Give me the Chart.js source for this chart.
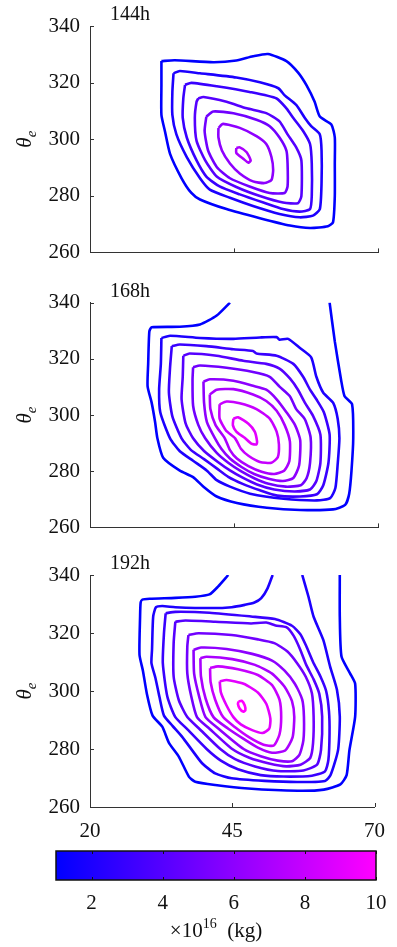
<!DOCTYPE html>
<html>
<head>
<meta charset="utf-8">
<script src="https://cdn.jsdelivr.net/npm/chart.js@4.4.1/dist/chart.umd.min.js"></script>
<style>
  body { margin: 0; background: #fff; width: 397px; height: 947px; position: relative; overflow: hidden; }
  canvas { position: absolute; left: 0; }
</style>
</head>
<body>
<canvas id="c144" width="397" height="275" style="top:0px"></canvas>
<canvas id="c168" width="397" height="270" style="top:280px"></canvas>
<canvas id="c192" width="397" height="300" style="top:550px"></canvas>
<canvas id="cbar" width="397" height="107" style="top:840px"></canvas>
<script>
// axes
const xTicks = [20, 45, 70];
const yTicks = [260, 280, 300, 320, 340];
const cbarTicks = [2, 4, 6, 8, 10];
const cbarRange = [1, 10];
const panelLabels = ['144h', '168h', '192h'];

// contours as [latitude, theta_e], outer level 1 -> inner
// 144h
const t144_1 = [[32.4,327.6],[34.7,327.9],[41.4,327.2],[45.4,327.8],[48.3,329.3],[50.9,330.1],[54.1,327.6],[56.1,323.6],[57.6,319.0],[59.0,313.2],[59.9,308.0],[61.9,305.2],[62.5,300.6],[62.5,291.4],[62.5,279.9],[62.2,270.7],[61.3,269.2],[58.2,268.6],[54.7,269.5],[49.5,272.1],[43.7,275.3],[39.1,278.7],[37.6,281.0],[35.9,286.2],[33.9,294.8],[33.0,302.9],[32.4,308.6],[32.4,319.0]];
const t144_2 = [[34.5,323.3],[35.6,324.1],[39.1,323.3],[45.4,321.8],[49.5,320.1],[52.7,318.0],[53.8,315.5],[55.8,312.1],[57.3,307.5],[58.4,304.6],[59.9,301.7],[60.2,296.0],[60.2,284.5],[59.9,275.3],[58.7,273.0],[56.4,272.4],[52.9,273.6],[48.3,276.4],[44.3,279.3],[40.8,282.2],[39.1,286.2],[36.8,293.7],[35.0,301.7],[34.3,308.6],[34.3,316.7]];
const t144_3 = [[36.5,319.2],[37.6,319.9],[42.0,318.7],[47.7,316.7],[52.4,314.4],[54.1,310.9],[55.3,307.5],[57.0,302.9],[58.2,298.3],[58.5,291.4],[58.5,279.9],[58.2,275.3],[56.4,274.4],[53.5,275.3],[50.1,277.6],[46.0,280.5],[42.5,283.3],[40.2,286.8],[38.5,292.5],[36.8,300.6],[36.1,307.5],[36.2,314.4]];
const t144_4 = [[38.8,314.4],[39.7,314.9],[43.7,313.2],[47.2,310.9],[50.6,309.2],[52.9,306.3],[54.3,301.7],[55.8,297.1],[56.7,292.5],[56.7,279.9],[56.1,277.4],[53.5,277.6],[49.5,279.9],[45.4,283.1],[42.0,286.8],[40.0,292.5],[38.5,299.4],[38.2,307.5],[38.5,313.2]];
const t144_5 = [[40.2,308.0],[41.4,309.8],[44.9,309.2],[48.9,306.9],[51.2,304.6],[52.9,300.6],[54.1,296.0],[54.3,291.4],[54.3,283.3],[53.8,281.0],[51.2,281.0],[47.7,283.3],[44.3,286.2],[42.0,290.2],[40.5,296.0],[39.9,302.9]];
const t144_6 = [[42.3,304.0],[43.1,305.4],[46.0,304.0],[48.9,301.1],[50.6,298.3],[51.5,293.7],[51.8,289.1],[51.5,285.6],[50.3,284.5],[48.3,285.1],[46.0,287.9],[44.3,291.4],[42.9,296.0],[42.3,300.6]];
const t144_7 = [[45.4,296.9],[46.0,297.1],[47.2,295.4],[47.9,292.5],[47.5,291.7],[46.6,293.1],[45.4,295.1]];

// 168h
const t168_1 = [[44.3,340],[42.0,335.4],[39.1,332.2],[35.6,331.4],[30.7,331.2],[30.3,329.7],[30.1,318.2],[30.0,310.2],[30.7,304.4],[31.3,297.5],[31.7,291.7],[32.7,284.8],[35.6,280.2],[37.9,277.9],[39.7,274.5],[42.0,271.0],[45.5,268.7],[50.7,267.0],[56.5,266.2],[62.2,266.4],[64.3,268.0],[65.0,272.0],[65.4,280.2],[65.7,291.7],[65.5,303.8],[64.2,306.7],[63.6,312.4],[62.5,326.2],[61.6,340]];
const t168_2 = [[32.4,327.4],[33.9,328.2],[39.1,327.4],[44.9,327.1],[49.5,327.6],[52.4,327.7],[52.9,326.8],[54.4,327.1],[56.4,323.9],[58.4,320.5],[59.3,313.6],[60.5,307.9],[62.2,304.4],[63.0,298.7],[63.3,291.7],[63.0,282.5],[62.6,274.0],[61.7,270.4],[59.4,269.6],[53.6,270.2],[47.8,272.0],[44.3,274.5],[42.0,276.8],[40.3,280.2],[37.9,283.7],[35.6,287.1],[33.9,291.7],[32.2,301.0],[32.0,309.0],[32.3,318.2]];
const t168_3 = [[34.2,324.5],[35.6,325.1],[40.2,324.5],[44.9,323.4],[48.3,322.8],[48.9,321.9],[52.4,321.1],[55.3,318.2],[57.0,313.6],[58.2,309.0],[59.3,305.6],[60.6,301.0],[61.6,293.0],[61.4,283.0],[60.5,275.0],[59.4,271.8],[56.5,271.0],[52.5,271.3],[49.5,273.2],[46.5,275.5],[44.0,278.0],[42.0,281.0],[39.8,284.3],[37.5,287.6],[35.9,291.7],[34.3,299.5],[33.7,308.0],[33.9,317.0]];
const t168_4 = [[36.2,321.1],[37.3,321.9],[42.0,321.1],[46.6,319.3],[50.6,318.2],[52.9,316.5],[54.7,313.0],[56.1,309.0],[57.3,304.4],[58.7,299.8],[60.0,293.0],[60.0,283.0],[59.3,276.5],[58.2,273.5],[55.5,272.8],[52.0,273.5],[49.0,275.3],[46.5,277.7],[44.3,280.3],[42.2,283.3],[39.8,287.2],[37.9,291.7],[36.6,297.0],[35.9,305.6],[36.1,313.6]];
const t168_5 = [[37.9,317.0],[39.1,317.6],[43.7,316.8],[48.3,315.3],[51.2,313.6],[52.9,310.1],[54.7,306.7],[55.8,302.1],[57.3,298.5],[58.3,292.0],[58.2,283.0],[57.6,277.5],[56.6,275.0],[54.0,274.5],[51.0,275.5],[48.5,277.5],[46.2,280.0],[44.0,283.0],[42.0,286.5],[40.0,291.7],[38.8,296.5],[37.9,303.3],[37.8,312.4]];
const t168_6 = [[39.7,311.9],[40.8,312.7],[44.9,312.2],[48.3,310.4],[50.6,309.0],[52.4,305.6],[54.1,301.0],[55.6,296.4],[56.5,291.0],[56.3,282.0],[55.3,277.6],[53.5,276.5],[51.0,277.3],[48.5,279.0],[46.3,281.5],[44.3,284.5],[42.8,288.0],[41.7,291.7],[40.3,297.5],[39.8,304.4]];
const t168_7 = [[40.8,307.3],[42.0,309.0],[44.9,309.2],[48.3,307.3],[50.6,305.0],[52.4,301.5],[53.8,296.4],[54.7,290.6],[54.6,283.5],[53.7,280.2],[52.0,279.0],[49.8,279.8],[47.5,281.8],[45.5,284.5],[44.3,287.5],[43.4,291.7],[41.8,296.4],[40.9,302.1]];
const t168_8 = [[42.5,303.8],[43.7,304.8],[46.0,304.2],[48.9,302.1],[51.2,298.7],[52.4,294.1],[52.8,289.5],[52.6,285.0],[51.5,283.0],[49.5,283.3],[47.5,285.5],[46.2,288.0],[45.2,291.7],[43.6,294.5],[42.5,298.7]];
const t168_9 = [[44.9,298.7],[45.7,299.2],[47.5,296.9],[48.6,294.1],[49.0,290.6],[48.9,289.5],[48.0,289.8],[46.9,291.8],[45.4,294.1],[44.8,296.4]];

// 192h
const t192_1 = [[44.3,340],[42.5,336.0],[41.0,333.3],[38.5,332.5],[35.0,332.1],[30.5,331.8],[29.2,331.5],[28.9,330.5],[28.8,325.6],[28.7,312.5],[29.3,307.0],[30.0,299.0],[31.0,291.5],[32.7,287.7],[33.9,282.0],[35.6,277.4],[37.4,270.4],[38.5,268.7],[42.0,267.6],[47.8,266.4],[56.5,265.6],[61.1,266.0],[64.0,267.8],[65.1,271.0],[65.6,279.7],[66.6,291.2],[66.6,302.5],[65.7,306.1],[64.2,311.9],[63.9,325.6],[63.9,340]];
const t192_2 = [[52.1,340],[51.2,335.4],[50.1,332.0],[48.9,330.5],[47.2,329.7],[44.9,328.9],[41.4,328.6],[35.0,328.9],[32.7,329.3],[31.6,328.9],[31.1,325.6],[30.9,314.2],[30.8,309.6],[31.5,304.5],[32.2,298.0],[33.0,291.5],[34.5,288.0],[36.2,284.2],[37.9,279.7],[39.7,275.1],[42.0,271.6],[44.9,269.9],[50.7,269.0],[56.4,268.6],[61.3,269.0],[62.3,271.1],[63.6,279.7],[63.9,291.2],[63.4,300.4],[62.2,308.4],[61.0,317.6],[59.3,325.6],[58.4,332.5],[57.3,340]];
const t192_3 = [[33.3,326.8],[35.0,327.3],[41.0,327.0],[48.3,325.7],[52.5,324.8],[55.5,322.5],[57.0,319.5],[58.0,315.5],[59.2,310.0],[60.5,305.0],[61.5,300.0],[62.0,293.0],[62.1,285.5],[61.9,276.3],[61.3,272.3],[59.0,270.8],[54.0,270.5],[50.0,271.0],[46.0,273.0],[43.0,276.0],[40.5,280.0],[37.0,287.0],[35.0,291.0],[33.6,298.0],[32.8,309.6],[33.0,319.9]];
const t192_4 = [[35.0,323.9],[36.8,324.3],[42.0,323.9],[48.3,323.3],[51.0,323.6],[52.6,322.6],[54.5,322.0],[55.8,319.0],[56.9,314.5],[58.0,309.0],[59.3,304.0],[60.3,299.0],[60.8,291.2],[60.6,279.7],[59.9,274.6],[57.5,272.6],[53.0,272.4],[49.0,274.0],[45.5,276.5],[42.9,280.0],[39.2,287.0],[37.1,291.0],[35.6,296.9],[34.7,305.0],[34.7,316.5]];
const t192_5 = [[37.3,319.3],[39.1,319.9],[44.9,319.3],[49.5,317.8],[52.4,316.5],[54.7,313.6],[56.4,309.6],[57.9,305.0],[59.0,299.2],[59.3,291.2],[59.2,282.0],[58.7,276.9],[57.0,274.6],[54.5,274.0],[51.5,275.0],[48.0,277.0],[45.0,280.0],[41.0,287.0],[38.8,291.0],[37.8,298.1],[37.1,306.1],[37.1,315.3]];
const t192_6 = [[38.2,314.2],[39.5,315.0],[44.0,314.5],[48.5,312.8],[52.0,310.5],[54.2,307.0],[56.0,302.5],[57.3,297.0],[57.6,291.0],[57.5,283.0],[56.8,278.0],[55.5,275.8],[53.0,276.0],[50.0,277.5],[47.0,280.0],[42.6,287.0],[40.3,291.0],[39.2,298.0],[38.3,306.0]];
const t192_7 = [[39.4,311.3],[40.5,311.8],[45.0,311.0],[49.0,309.0],[52.0,306.0],[54.2,301.5],[55.5,296.5],[55.9,291.0],[55.6,284.0],[54.3,279.5],[52.0,278.7],[49.5,280.5],[47.0,283.5],[44.3,287.0],[41.7,291.0],[40.3,297.5],[39.5,305.0]];
const t192_8 = [[41.1,307.9],[42.5,308.5],[46.0,307.5],[49.5,305.5],[52.0,302.0],[53.3,297.0],[53.6,291.0],[53.3,285.0],[52.3,281.2],[50.5,281.5],[48.0,284.0],[45.5,287.5],[43.4,291.0],[42.0,297.0],[41.2,303.0]];
const t192_9 = [[42.8,303.3],[44.0,303.8],[47.0,302.5],[49.5,299.5],[51.0,295.5],[51.7,290.5],[51.5,287.0],[50.3,285.5],[48.5,286.5],[46.5,288.5],[45.2,291.0],[44.0,295.0],[43.0,299.5]];
const t192_10 = [[46.1,296.4],[46.7,296.6],[47.2,295.0],[47.3,293.3],[46.9,292.9],[46.3,294.0],[46.0,295.5]];

const contours144 = [t144_1, t144_2, t144_3, t144_4, t144_5, t144_6, t144_7];
const contours168 = [t168_1, t168_2, t168_3, t168_4, t168_5, t168_6, t168_7, t168_8, t168_9];
const contours192 = [t192_1, t192_2, t192_3, t192_4, t192_5, t192_6, t192_7, t192_8, t192_9, t192_10];
const openLevels = { '144h': [], '168h': [1], '192h': [1, 2] };

const FONT = "'Liberation Serif', 'DejaVu Serif', serif";

function levelColor(v) {
    var t = (v - cbarRange[0]) / (cbarRange[1] - cbarRange[0]);
    return 'rgb(' + Math.round(255 * t) + ',0,255)';
}

// short tick marks drawn inside the axes, like matlab
const insideTicks = {
    id: 'insideTicks',
    afterDraw: function(chart) {
        var ctx = chart.ctx, a = chart.chartArea;
        var xs = chart.scales.x, ys = chart.scales.y;
        ctx.save();
        ctx.strokeStyle = '#333';
        ctx.lineWidth = 1;
        ctx.beginPath();
        xTicks.forEach(function(v) {
            var px = Math.round(xs.getPixelForValue(v)) + 0.5;
            ctx.moveTo(px, a.bottom);
            ctx.lineTo(px, a.bottom - 4);
        });
        yTicks.forEach(function(v) {
            var py = Math.round(ys.getPixelForValue(v)) + 0.5;
            ctx.moveTo(a.left, py);
            ctx.lineTo(a.left + 4, py);
        });
        ctx.stroke();

        // panel label and theta_e axis label
        ctx.fillStyle = '#111';
        ctx.font = '20px ' + FONT;
        ctx.textBaseline = 'middle';
        ctx.textAlign = 'left';
        ctx.fillText(chart.options.panelLabel, a.left + 20, a.top - 11);

        ctx.translate(31, (a.top + a.bottom) / 2);
        ctx.rotate(-Math.PI / 2);
        ctx.textBaseline = 'alphabetic';
        ctx.font = 'italic 21px ' + FONT;
        var w1 = ctx.measureText('θ').width;
        ctx.font = 'italic 15px ' + FONT;
        var w2 = ctx.measureText('e').width;
        ctx.font = 'italic 21px ' + FONT;
        ctx.fillText('θ', -(w1 + w2) / 2, 0);
        ctx.font = 'italic 15px ' + FONT;
        ctx.fillText('e', -(w1 + w2) / 2 + w1, 5);
        ctx.restore();
    }
};

function makePanel(id, label, contours, topPad, xAxisHeight, showX) {
    var datasets = contours.map(function(pts, i) {
        var lv = i + 1;
        var line = pts.slice();
        if (openLevels[label].indexOf(lv) < 0) line.push(pts[0]);
        return {
            data: line.map(function(p) { return {x: p[0], y: p[1]}; }),
            showLine: true,
            borderColor: levelColor(lv),
            borderWidth: 2.6,
            pointRadius: 0,
            tension: 0.2,
            fill: false
        };
    });

    return new Chart(document.getElementById(id), {
        type: 'scatter',
        data: { datasets: datasets },
        options: {
            responsive: false,
            animation: false,
            devicePixelRatio: 1,
            panelLabel: label,
            layout: { padding: { top: topPad, right: 19, left: 0, bottom: 0 } },
            plugins: { legend: { display: false }, tooltip: { enabled: false } },
            scales: {
                x: {
                    type: 'linear', min: 20, max: 70,
                    afterBuildTicks: function(s) { s.ticks = xTicks.map(function(v) { return {value: v}; }); },
                    afterFit: function(s) { s.height = xAxisHeight; },
                    grid: { drawOnChartArea: false, drawTicks: false },
                    border: { color: '#333', width: 1 },
                    ticks: { display: showX, color: '#111', padding: 12, maxRotation: 0, font: { family: FONT, size: 21 } }
                },
                y: {
                    type: 'linear', min: 260, max: 340,
                    afterBuildTicks: function(s) { s.ticks = yTicks.map(function(v) { return {value: v}; }); },
                    afterFit: function(s) { s.width = 90; },
                    grid: { drawOnChartArea: false, drawTicks: false },
                    border: { color: '#333', width: 1 },
                    ticks: { color: '#111', padding: 10, font: { family: FONT, size: 21 } }
                }
            }
        },
        plugins: [insideTicks]
    });
}

makePanel('c144', panelLabels[0], contours144, 26, 17, false);
makePanel('c168', panelLabels[1], contours168, 20, 18, false);
makePanel('c192', panelLabels[2], contours192, 25, 43, true);

// colour bar
const colorBar = {
    id: 'colorBar',
    beforeDatasetsDraw: function(chart) {
        var ctx = chart.ctx, a = chart.chartArea, xs = chart.scales.x;
        var x0 = xs.getPixelForValue(cbarRange[0]), x1 = xs.getPixelForValue(cbarRange[1]);
        var g = ctx.createLinearGradient(x0, 0, x1, 0);
        g.addColorStop(0, levelColor(cbarRange[0]));
        g.addColorStop(1, levelColor(cbarRange[1]));
        ctx.save();
        ctx.fillStyle = g;
        ctx.fillRect(x0, a.top, x1 - x0, a.bottom - a.top);
        ctx.strokeStyle = '#111';
        ctx.lineWidth = 1;
        ctx.beginPath();
        cbarTicks.forEach(function(v) {
            var px = Math.round(xs.getPixelForValue(v)) + 0.5;
            ctx.moveTo(px, a.top); ctx.lineTo(px, a.top + 3);
            ctx.moveTo(px, a.bottom); ctx.lineTo(px, a.bottom - 3);
        });
        ctx.stroke();
        ctx.lineWidth = 1.5;
        ctx.strokeRect(x0, a.top, x1 - x0, a.bottom - a.top);

        // unit label: x10^16 (kg)
        var cx = (a.left + a.right) / 2, cy = a.bottom + 50;
        ctx.fillStyle = '#111';
        ctx.textBaseline = 'alphabetic';
        ctx.textAlign = 'left';
        ctx.font = '21px ' + FONT;
        var wa = ctx.measureText('×10').width, wc = ctx.measureText('  (kg)').width;
        ctx.font = '14px ' + FONT;
        var wb = ctx.measureText('16').width;
        var sx = cx - (wa + wb + wc) / 2, base = cy + 7;
        ctx.font = '21px ' + FONT;
        ctx.fillText('×10', sx, base);
        ctx.fillText('  (kg)', sx + wa + wb, base);
        ctx.font = '14px ' + FONT;
        ctx.fillText('16', sx + wa, base - 9);
        ctx.restore();
    }
};

new Chart(document.getElementById('cbar'), {
    type: 'scatter',
    data: { datasets: [] },
    options: {
        responsive: false,
        animation: false,
        devicePixelRatio: 1,
        layout: { padding: { top: 11, left: 56, right: 21, bottom: 0 } },
        plugins: { legend: { display: false }, tooltip: { enabled: false } },
        scales: {
            x: {
                type: 'linear', min: cbarRange[0], max: cbarRange[1],
                afterBuildTicks: function(s) { s.ticks = cbarTicks.map(function(v) { return {value: v}; }); },
                afterFit: function(s) { s.height = 67; },
                grid: { display: false },
                border: { display: false },
                ticks: { color: '#111', padding: 3, maxRotation: 0, font: { family: FONT, size: 21 } }
            },
            y: { display: false, min: 0, max: 1 }
        }
    },
    plugins: [colorBar]
});
</script>
</body>
</html>
